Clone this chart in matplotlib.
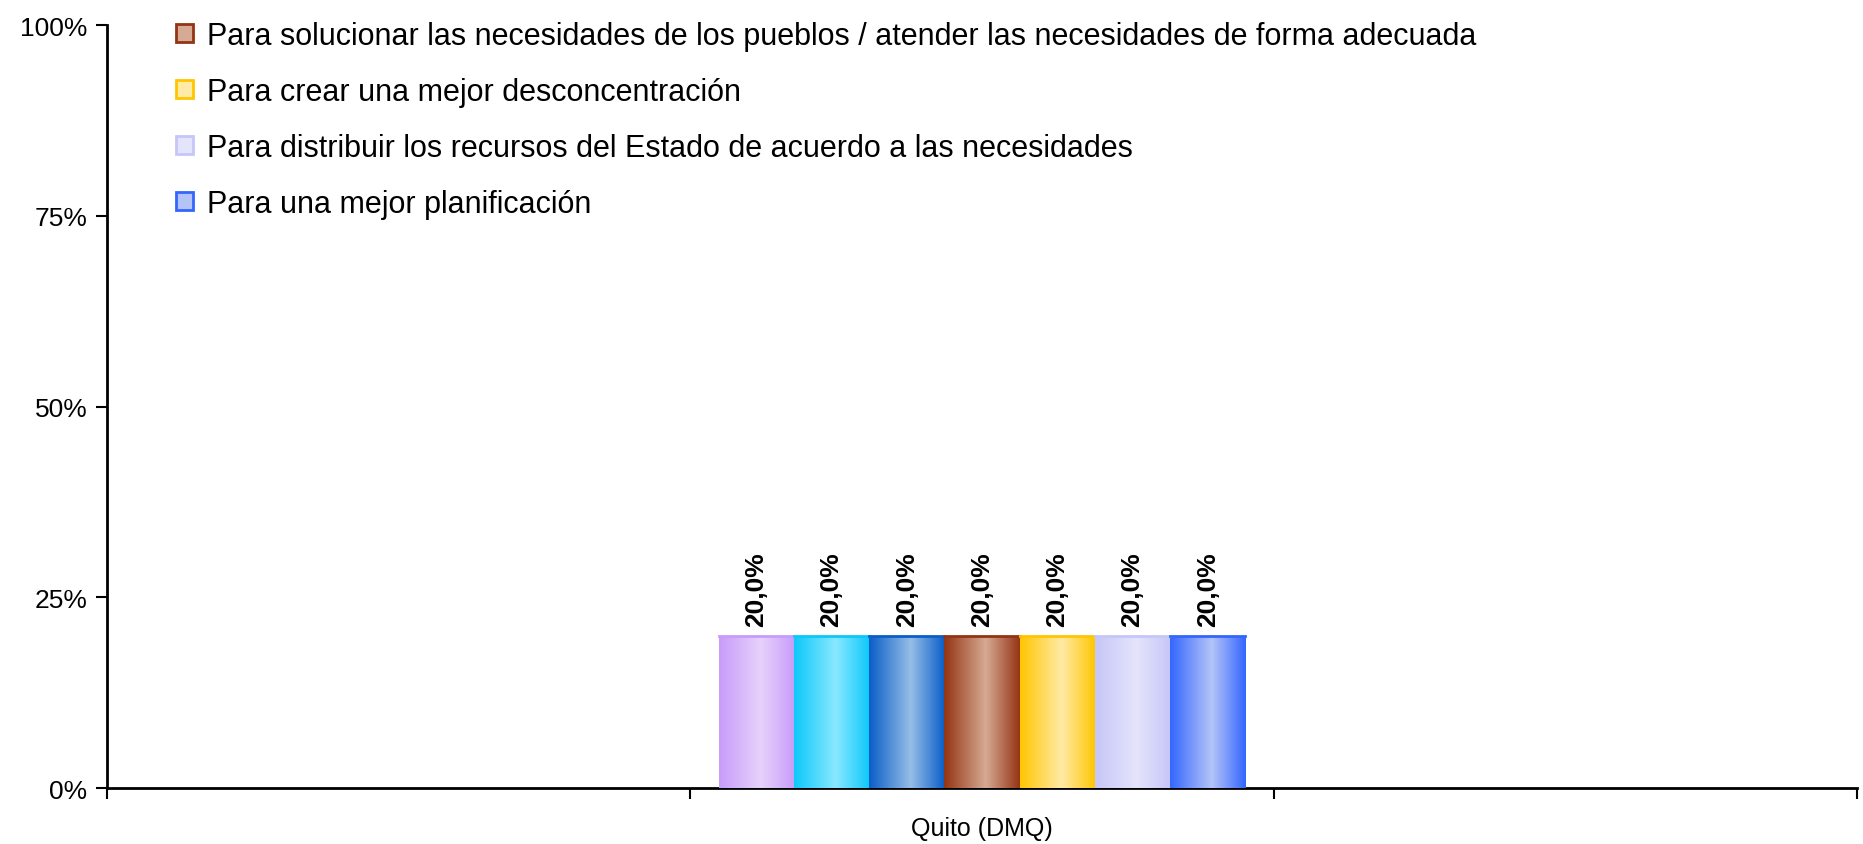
import numpy as np
import matplotlib.pyplot as plt
from matplotlib.colors import LinearSegmentedColormap
from matplotlib.patches import Patch

plt.rcParams['font.family'] = ['Liberation Sans', 'DejaVu Sans']

categories = ['', 'Quito (DMQ)', '']
series_names = [None, None, None,
                'Para solucionar las necesidades de los pueblos / atender las necesidades de forma adecuada',
                'Para crear una mejor desconcentración',
                'Para distribuir los recursos del Estado de acuerdo a las necesidades',
                'Para una mejor planificación']
values = [20.0, 20.0, 20.0, 20.0, 20.0, 20.0, 20.0]
edge_colors = ['#C89CFA', '#0CC8FA', '#0A5EC8', '#943414', '#FFC600', '#C6C6F8', '#3466FF']
light_colors = ['#E6D2FC', '#8AE8FF', '#96BEE6', '#D6AA94', '#FFEAA6', '#E4E4FC', '#B4C4F8']

fig = plt.figure(figsize=(18.63, 8.45), dpi=100)
ax = fig.add_axes([0.0574, 0.066, 0.9394, 0.903])

n = len(values)
w = 0.129
cat_idx = 1
grad = np.linspace(0, 1, 256).reshape(1, -1)
for i in range(n):
    x = cat_idx + (i - (n - 1) / 2) * w
    bar = ax.bar(x, values[i], width=w, color=light_colors[i], edgecolor='none', zorder=2)[0]
    cmap = LinearSegmentedColormap.from_list('g%d' % i, [(0, edge_colors[i]), (0.55, light_colors[i]),
                                                       (1, edge_colors[i])])
    im = ax.imshow(grad, extent=[x - w / 2, x + w / 2, 0, values[i]], aspect='auto',
                   cmap=cmap, zorder=3)
    im.set_clip_path(bar)
    ax.plot([x - w / 2, x + w / 2], [values[i], values[i]], color=edge_colors[i], lw=2, zorder=4)
    ax.text(x, values[i] + 1.2, f"{values[i]:.1f}".replace('.', ',') + '%', rotation=90,
            ha='center', va='bottom', fontsize=19, fontweight='bold', zorder=5)

ax.set_xlim(-0.5, 2.5)
ax.set_ylim(0, 100)
ax.set_yticks([0, 25, 50, 75, 100])
ax.set_yticklabels(['0%', '25%', '50%', '75%', '100%'])
ax.set_xticks([0, 1, 2])
ax.set_xticklabels(categories)
ax.set_xticks([-0.5, 0.5, 1.5, 2.5], minor=True)
ax.tick_params(axis='x', which='major', length=0, labelsize=18, pad=20)
ax.tick_params(axis='x', which='minor', length=8, width=1.5, direction='out')
ax.tick_params(axis='y', length=8, width=1.5, labelsize=19, pad=6)
for s in ['top', 'right']:
    ax.spines[s].set_visible(False)
for s in ['left', 'bottom']:
    ax.spines[s].set_linewidth(2)

handles = []
for i in range(n):
    if series_names[i]:
        handles.append(Patch(facecolor=light_colors[i], edgecolor=edge_colors[i], linewidth=2,
                             label=series_names[i]))
fig.legend(handles=handles, loc='upper left', bbox_to_anchor=(0.0945, 0.974), frameon=False,
           fontsize=22, handlelength=0.55, handleheight=0.55, handletextpad=0.45,
           labelspacing=0.85, borderpad=0, borderaxespad=0)

fig.savefig('out.png', dpi=100)
